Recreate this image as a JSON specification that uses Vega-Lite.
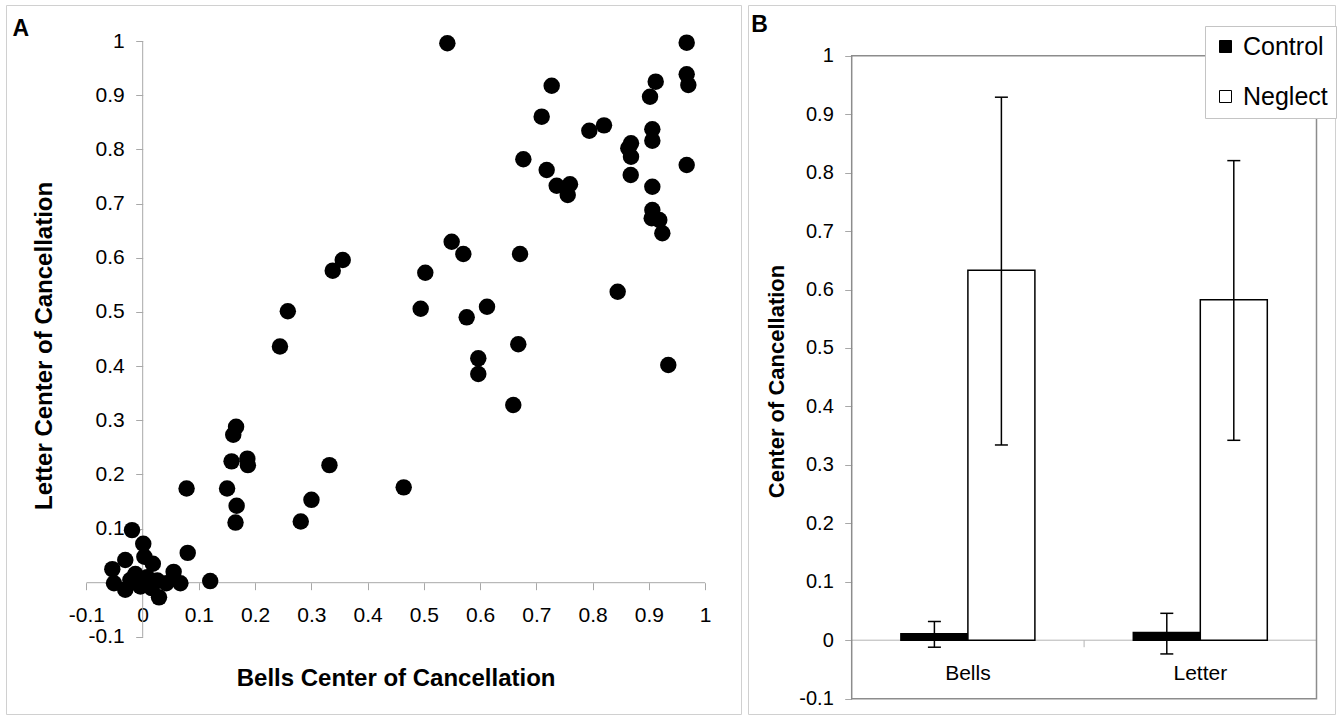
{
  "$schema": "https://vega.github.io/schema/vega-lite/v6.json",
  "padding": {"left": 5, "top": 4, "right": 0, "bottom": 0},
  "background": "white",
  "spacing": 7,
  "bounds": "flush",
  "config": {
    "font": "Liberation Sans",
    "view": {"stroke": "#d0d0d0", "strokeWidth": 1},
    "axis": {"labelColor": "#000", "titleColor": "#000", "tickColor": "#a8a8a8", "grid": false, "labelFont": "Liberation Sans", "titleFont": "Liberation Sans"}
  },
  "datasets": {
    "scatter": [
      {"bells": 0.5416, "letter": 0.9958}, {"bells": 0.9671, "letter": 0.9969}, {"bells": 0.9671, "letter": 0.9385},
      {"bells": 0.97, "letter": 0.9188}, {"bells": 0.912, "letter": 0.9249}, {"bells": 0.9019, "letter": 0.8972},
      {"bells": 0.7271, "letter": 0.9175}, {"bells": 0.7093, "letter": 0.8603}, {"bells": 0.794, "letter": 0.8344},
      {"bells": 0.8201, "letter": 0.8443}, {"bells": 0.906, "letter": 0.837}, {"bells": 0.906, "letter": 0.816},
      {"bells": 0.8681, "letter": 0.8111}, {"bells": 0.8633, "letter": 0.8019}, {"bells": 0.8681, "letter": 0.7864},
      {"bells": 0.6767, "letter": 0.7816}, {"bells": 0.9671, "letter": 0.7711}, {"bells": 0.7182, "letter": 0.7619},
      {"bells": 0.8676, "letter": 0.7526}, {"bells": 0.736, "letter": 0.7329}, {"bells": 0.7596, "letter": 0.7355},
      {"bells": 0.7556, "letter": 0.7157}, {"bells": 0.906, "letter": 0.731}, {"bells": 0.906, "letter": 0.688},
      {"bells": 0.9049, "letter": 0.6727}, {"bells": 0.9184, "letter": 0.6696}, {"bells": 0.9238, "letter": 0.645},
      {"bells": 0.5493, "letter": 0.6295}, {"bells": 0.57, "letter": 0.6068}, {"bells": 0.6708, "letter": 0.6068},
      {"bells": 0.3556, "letter": 0.5957}, {"bells": 0.3378, "letter": 0.576}, {"bells": 0.5024, "letter": 0.5723},
      {"bells": 0.9344, "letter": 0.4019}, {"bells": 0.4942, "letter": 0.5058}, {"bells": 0.576, "letter": 0.4899},
      {"bells": 0.6121, "letter": 0.5095}, {"bells": 0.6677, "letter": 0.4401}, {"bells": 0.5966, "letter": 0.4142},
      {"bells": 0.5966, "letter": 0.3853}, {"bells": 0.6588, "letter": 0.328}, {"bells": 0.8444, "letter": 0.5372},
      {"bells": 0.258, "letter": 0.501}, {"bells": 0.244, "letter": 0.436}, {"bells": 0.166, "letter": 0.288},
      {"bells": 0.161, "letter": 0.273}, {"bells": 0.158, "letter": 0.224}, {"bells": 0.186, "letter": 0.229},
      {"bells": 0.187, "letter": 0.217}, {"bells": 0.332, "letter": 0.217}, {"bells": 0.078, "letter": 0.174},
      {"bells": 0.15, "letter": 0.174}, {"bells": 0.464, "letter": 0.176}, {"bells": 0.3, "letter": 0.153},
      {"bells": 0.167, "letter": 0.142}, {"bells": 0.165, "letter": 0.111}, {"bells": 0.281, "letter": 0.113},
      {"bells": 0.12, "letter": 0.003}, {"bells": 0.08, "letter": 0.055},
      {"bells": -0.019, "letter": 0.097}, {"bells": 0.001, "letter": 0.072}, {"bells": -0.054, "letter": 0.025},
      {"bells": -0.031, "letter": 0.042}, {"bells": -0.051, "letter": -0.001}, {"bells": -0.031, "letter": -0.013},
      {"bells": 0.003, "letter": 0.048}, {"bells": 0.018, "letter": 0.035}, {"bells": -0.013, "letter": 0.016},
      {"bells": 0.008, "letter": 0.01}, {"bells": -0.004, "letter": -0.007}, {"bells": 0.026, "letter": 0.004},
      {"bells": 0.029, "letter": -0.027}, {"bells": 0.016, "letter": -0.01}, {"bells": 0.055, "letter": 0.02},
      {"bells": 0.067, "letter": -0.001}, {"bells": 0.042, "letter": -0.001}, {"bells": -0.022, "letter": 0.005}
    ],
    "axesA": [
      {"x0": -0.1, "x1": 1, "y0": 0, "y1": 0},
      {"x0": 0, "x1": 0, "y0": -0.1, "y1": 1}
    ],
    "bars": [
      {"task": "Bells", "group": "Control", "mean": 0.011, "lo": -0.012, "hi": 0.032},
      {"task": "Bells", "group": "Neglect", "mean": 0.633, "lo": 0.334, "hi": 0.929},
      {"task": "Letter", "group": "Control", "mean": 0.013, "lo": -0.0235, "hi": 0.046},
      {"task": "Letter", "group": "Neglect", "mean": 0.5825, "lo": 0.342, "hi": 0.8205}
    ],
    "linesB": [
      {"x0": 0.5, "x1": 2.5, "y0": 0, "y1": 0},
      {"x0": 1.5, "x1": 1.5, "y0": 0, "y1": -0.012}
    ],
    "frameB": [
      {"x0": 0.5, "x1": 2.5, "y0": -0.1, "y1": 1}
    ]
  },
  "hconcat": [
    {
      "width": 735,
      "height": 709,
      "title": {"text": "A", "anchor": "start", "frame": "group", "orient": "top", "offset": -22, "baseline": "top", "dx": 6.5, "dy": 13.7, "fontSize": 23, "fontWeight": "bold", "color": "#000", "font": "Liberation Sans"},
      "layer": [
        {
          "data": {"name": "axesA"},
          "mark": {"type": "rule", "color": "#a8a8a8", "strokeWidth": 1},
          "encoding": {
            "x": {"field": "x0", "type": "quantitative", "title": "Bells Center of Cancellation", "scale": {"domain": [-0.24302, 1.06364], "nice": false, "zero": false}},
            "x2": {"field": "x1"},
            "y": {"field": "y0", "type": "quantitative", "title": "Letter Center of Cancellation", "scale": {"domain": [-0.24239, 1.06646], "nice": false, "zero": false}},
            "y2": {"field": "y1"}
          }
        },
        {
          "data": {"name": "scatter"},
          "mark": {"type": "circle", "size": 270, "color": "#000", "opacity": 1},
          "encoding": {
            "x": {
              "field": "bells", "type": "quantitative",
              "scale": {"domain": [-0.24302, 1.06364], "nice": false, "zero": false},
              "axis": {
                "orient": "bottom", "offset": -131.3,
                "values": [-0.1, 0, 0.1, 0.2, 0.3, 0.4, 0.5, 0.6, 0.7, 0.8, 0.9, 1],
                "domain": false, "grid": false, "ticks": true, "tickSize": 7, "tickColor": "#a8a8a8", "tickWidth": 1,
                "labelFontSize": 21, "labelPadding": 15, "labelOverlap": false, "labelFlush": false,
                "labelExpr": "datum.value < 0 ? '-' + format(-datum.value, '~g') : format(datum.value, '~g')",
                "title": "Bells Center of Cancellation", "titleFontSize": 24, "titleFontWeight": "bold",
                "titleX": 389.6, "titleY": 95.5, "titleBaseline": "middle", "titleAlign": "center"
              }
            },
            "y": {
              "field": "letter", "type": "quantitative",
              "scale": {"domain": [-0.24239, 1.06646], "nice": false, "zero": false},
              "axis": {
                "orient": "left", "offset": -136.7,
                "values": [-0.1, 0.1, 0.2, 0.3, 0.4, 0.5, 0.6, 0.7, 0.8, 0.9, 1],
                "domain": false, "grid": false, "ticks": true, "tickSize": 7, "tickColor": "#a8a8a8", "tickWidth": 1,
                "labelFontSize": 21, "labelPadding": 11.5, "labelOverlap": false, "labelFlush": false,
                "labelExpr": "datum.value < 0 ? '-' + format(-datum.value, '~g') : format(datum.value, '~g')",
                "title": "Letter Center of Cancellation", "titleFontSize": 24, "titleFontWeight": "bold",
                "titleAngle": -90, "titleX": -97.8, "titleY": 340.4, "titleBaseline": "middle", "titleAlign": "center"
              }
            }
          }
        }
      ]
    },
    {
      "width": 587,
      "height": 709,
      "title": {"text": "B", "anchor": "start", "frame": "group", "orient": "top", "offset": -22, "baseline": "top", "dx": 3.2, "dy": 9.7, "fontSize": 23, "fontWeight": "bold", "color": "#000", "font": "Liberation Sans"},
      "resolve": {"scale": {"x": "independent"}},
      "layer": [
        {
          "data": {"name": "linesB"},
          "mark": {"type": "rule", "color": "#b4b4b4", "strokeWidth": 1},
          "encoding": {
            "x": {"field": "x0", "type": "quantitative", "axis": null, "scale": {"domain": [0.05379, 2.5796], "nice": false, "zero": false}},
            "x2": {"field": "x1"},
            "y": {"field": "y0", "type": "quantitative", "title": "Center of Cancellation", "scale": {"domain": [-0.12626, 1.08674], "nice": false, "zero": false}},
            "y2": {"field": "y1"}
          }
        },
        {
          "data": {"name": "bars"},
          "mark": {"type": "bar", "stroke": "#000", "strokeWidth": 1.5},
          "encoding": {
            "x": {
              "field": "task", "type": "nominal",
              "scale": {"domain": ["Bells", "Letter"], "paddingInner": 0.42341, "paddingOuter": 0.474615, "align": 0.6931},
              "axis": {
                "orient": "bottom", "offset": -73.8, "domain": false, "ticks": false, "tickSize": 0,
                "labelFontSize": 21, "labelPadding": 22.3, "labelAngle": 0, "title": null
              }
            },
            "xOffset": {"field": "group", "type": "nominal", "scale": {"domain": ["Control", "Neglect"], "paddingInner": 0, "paddingOuter": 0}},
            "y": {
              "field": "mean", "type": "quantitative",
              "scale": {"domain": [-0.12626, 1.08674], "nice": false, "zero": false},
              "axis": {
                "orient": "left", "offset": -103.7,
                "values": [-0.1, 0, 0.1, 0.2, 0.3, 0.4, 0.5, 0.6, 0.7, 0.8, 0.9, 1],
                "domain": false, "grid": false, "ticks": true, "tickSize": 7, "tickColor": "#a8a8a8", "tickWidth": 1,
                "labelFontSize": 20, "labelPadding": 11.4, "labelOverlap": false, "labelFlush": false,
                "labelExpr": "datum.value < 0 ? '-' + format(-datum.value, '~g') : format(datum.value, '~g')",
                "title": "Center of Cancellation", "titleFontSize": 22, "titleFontWeight": "bold",
                "titleAngle": -90, "titleX": -75.4, "titleY": 376, "titleBaseline": "middle", "titleAlign": "center"
              }
            },
            "y2": {"datum": 0},
            "fill": {
              "field": "group", "type": "nominal",
              "scale": {"domain": ["Control", "Neglect"], "range": ["#000000", "#ffffff"]},
              "legend": {
                "orient": "none", "legendX": 1199, "legendY": 21, "title": null,
                "fillColor": "#ffffff", "strokeColor": "#c4c4c4", "padding": 8,
                "symbolType": "square", "symbolSize": 144, "symbolStrokeColor": "#000", "symbolStrokeWidth": 1,
                "labelFontSize": 25, "labelColor": "#000", "labelFont": "Liberation Sans", "labelOffset": 5, "rowPadding": 24
              }
            }
          }
        },
        {
          "data": {"name": "bars"},
          "mark": {"type": "rule", "color": "#000", "strokeWidth": 1.5},
          "encoding": {
            "x": {"field": "task", "type": "nominal", "axis": null, "scale": {"domain": ["Bells", "Letter"], "paddingInner": 0.42341, "paddingOuter": 0.474615, "align": 0.6931}},
            "xOffset": {"field": "group", "type": "nominal", "scale": {"domain": ["Control", "Neglect"], "paddingInner": 0, "paddingOuter": 0}},
            "y": {"field": "lo", "type": "quantitative", "title": "Center of Cancellation", "scale": {"domain": [-0.12626, 1.08674], "nice": false, "zero": false}},
            "y2": {"field": "hi"}
          }
        },
        {
          "data": {"name": "bars"},
          "mark": {"type": "tick", "color": "#000", "thickness": 1.5, "size": 13, "opacity": 1},
          "encoding": {
            "x": {"field": "task", "type": "nominal", "axis": null, "scale": {"domain": ["Bells", "Letter"], "paddingInner": 0.42341, "paddingOuter": 0.474615, "align": 0.6931}},
            "xOffset": {"field": "group", "type": "nominal", "scale": {"domain": ["Control", "Neglect"], "paddingInner": 0, "paddingOuter": 0}},
            "y": {"field": "lo", "type": "quantitative", "title": "Center of Cancellation", "scale": {"domain": [-0.12626, 1.08674], "nice": false, "zero": false}}
          }
        },
        {
          "data": {"name": "bars"},
          "mark": {"type": "tick", "color": "#000", "thickness": 1.5, "size": 13, "opacity": 1},
          "encoding": {
            "x": {"field": "task", "type": "nominal", "axis": null, "scale": {"domain": ["Bells", "Letter"], "paddingInner": 0.42341, "paddingOuter": 0.474615, "align": 0.6931}},
            "xOffset": {"field": "group", "type": "nominal", "scale": {"domain": ["Control", "Neglect"], "paddingInner": 0, "paddingOuter": 0}},
            "y": {"field": "hi", "type": "quantitative", "title": "Center of Cancellation", "scale": {"domain": [-0.12626, 1.08674], "nice": false, "zero": false}}
          }
        },
        {
          "data": {"name": "frameB"},
          "mark": {"type": "rect", "fillOpacity": 0, "stroke": "#8c8c8c", "strokeWidth": 1.5},
          "encoding": {
            "x": {"field": "x0", "type": "quantitative", "axis": null, "scale": {"domain": [0.05379, 2.5796], "nice": false, "zero": false}},
            "x2": {"field": "x1"},
            "y": {"field": "y0", "type": "quantitative", "title": "Center of Cancellation", "scale": {"domain": [-0.12626, 1.08674], "nice": false, "zero": false}},
            "y2": {"field": "y1"}
          }
        }
      ]
    }
  ]
}
